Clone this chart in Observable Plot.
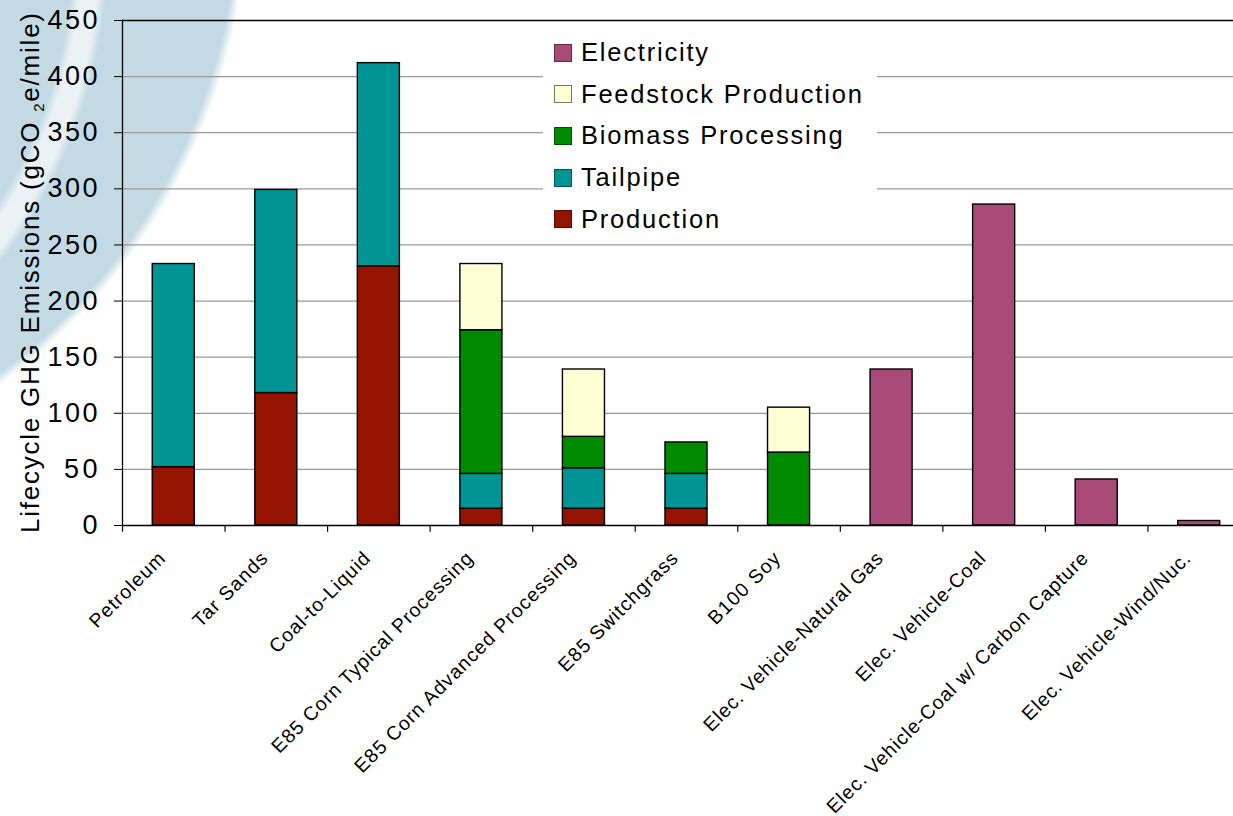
<!DOCTYPE html>
<html>
<head>
<meta charset="utf-8">
<script src="https://cdn.jsdelivr.net/npm/d3@7"></script>
<script src="https://cdn.jsdelivr.net/npm/@observablehq/plot@0.6"></script>
<style>
  html, body { margin: 0; padding: 0; background: #fff; overflow: hidden; }
  #chart {
    position: relative; width: 1233px; height: 816px;
    font-family: "Liberation Sans", Arial, sans-serif;
    /* pale swoosh: a light streak over a blue disc whose centre sits off the top-left corner */
    background:
      radial-gradient(circle 520px at -400px -50px,
        rgba(234, 242, 246, 0) 472px, rgba(234, 242, 246, 1) 481px,
        rgba(234, 242, 246, 1) 499px, rgba(234, 242, 246, 0) 508px),
      radial-gradient(circle 600px at -350px -100px,
        #c3dae4 588px, rgba(195, 218, 228, 0) 598px),
      #ffffff;
  }
  #plot { position: absolute; left: 0; top: 0; }
  #legend { position: absolute; left: 543px; top: 22px; width: 334px; height: 216px; background: #fff; }
  .row { position: absolute; left: 11px; height: 28px; display: flex; align-items: center;
         font-size: 25.5px; letter-spacing: 1.8px; color: #000; white-space: nowrap; }
  .sw { width: 16px; height: 16px; border: 1.5px solid; margin-right: 9px; flex: none; }
</style>
</head>
<body>
<div id="chart">
  <div id="plot"></div>
  <div id="legend"></div>
</div>
<script>
// Fuel pathways along the x axis
const categories = [
  "Petroleum", "Tar Sands", "Coal-to-Liquid", "E85 Corn Typical Processing",
  "E85 Corn Advanced Processing", "E85 Switchgrass", "B100 Soy",
  "Elec. Vehicle-Natural Gas", "Elec. Vehicle-Coal",
  "Elec. Vehicle-Coal w/ Carbon Capture", "Elec. Vehicle-Wind/Nuc."
];

// Emission components, bottom of the stack first
const stackOrder = ["Production", "Tailpipe", "Biomass Processing", "Feedstock Production", "Electricity"];
const componentColors = ["#941400", "#009494", "#008a00", "#ffffd6", "#a94a78"];

// gCO2e per mile for each component, one value per pathway
const production  = [52, 118, 231, 15, 15, 15, 0, 0, 0, 0, 0];
const tailpipe    = [181, 181, 181, 31, 36, 31, 0, 0, 0, 0, 0];
const biomass     = [0, 0, 0, 128, 28, 28, 65, 0, 0, 0, 0];
const feedstock   = [0, 0, 0, 59, 60, 0, 40, 0, 0, 0, 0];
const electricity = [0, 0, 0, 0, 0, 0, 0, 139, 286, 41, 4];

const yTicks = [0, 50, 100, 150, 200, 250, 300, 350, 400, 450];
const yLabel = "Lifecycle GHG Emissions (gCO 2e/mile)";

const series = [
  ["Production", production],
  ["Tailpipe", tailpipe],
  ["Biomass Processing", biomass],
  ["Feedstock Production", feedstock],
  ["Electricity", electricity]
];

const rows = [];
categories.forEach((category, i) => {
  for (const [component, values] of series) {
    if (values[i] > 0) rows.push({category, component, value: values[i]});
  }
});

const xRange = [122, 1250];
const step = (xRange[1] - xRange[0]) / categories.length;

const plot = Plot.plot({
  width: 1233,
  height: 816,
  marginLeft: 122,
  marginRight: 0,
  marginTop: 20,
  marginBottom: 291,
  style: {background: "transparent", fontFamily: "Liberation Sans, Arial, sans-serif", color: "#000", overflow: "hidden"},
  x: {domain: categories, range: xRange, paddingInner: 0.59, paddingOuter: 0.295, round: false, axis: null},
  y: {domain: [0, 450]},
  color: {domain: stackOrder, range: componentColors},
  marks: [
    Plot.gridY(yTicks.filter(t => t > 0 && t < 450), {stroke: "#999", strokeOpacity: 1, strokeWidth: 1.3}),
    Plot.barY(rows, {
      x: "category", y: "value", fill: "component", order: stackOrder,
      stroke: "#000", strokeWidth: 1.4
    }),
    Plot.ruleY([0, 450], {stroke: "#000", strokeWidth: 1.3}),
    Plot.frame({anchor: "left", stroke: "#000", strokeWidth: 1.3}),
    Plot.axisY(yTicks, {tickSize: 8, tickPadding: 17, fontSize: 27, label: null}),
    Plot.ruleX(categories, {x: d => d, dx: -step / 2, y1: 0, y2: -6, stroke: "#000", strokeWidth: 1.2}),
    Plot.text(categories, {
      x: d => d, text: d => d, frameAnchor: "bottom", rotate: -45,
      textAnchor: "end", lineAnchor: "middle", fontSize: 19.5, dx: -12, dy: 30,
      fill: "#000"
    }),
    Plot.text([yLabel], {
      text: d => d, frameAnchor: "left", rotate: -90, dx: -92,
      textAnchor: "middle", lineAnchor: "middle",
      fontSize: 26, fill: "#000"
    })
  ]
});

document.getElementById("plot").appendChild(plot);

const svg = d3.select(plot);
const texts = svg.selectAll("text");

// Subscript 2 in the axis title
const title = texts.filter(function () { return this.textContent === yLabel; });
title.each(function () {
  const t = d3.select(this).text(null);
  t.append("tspan").text("Lifecycle GHG Emissions (gCO ");
  t.append("tspan").attr("font-size", 15).attr("dy", 5).text("2");
  t.append("tspan").attr("dy", -5).text("e/mile)");
});

// Slightly wider letter spacing for the chart's text
function widen(selection, factor) {
  selection.each(function () {
    const n = this.getComputedTextLength();
    if (n > 0) {
      this.setAttribute("textLength", (n * factor).toFixed(1));
      this.setAttribute("lengthAdjust", "spacing");
    }
  });
}
const tickStrings = yTicks.map(String);
widen(texts.filter(function () { return tickStrings.includes(this.textContent); }), 1.11);
widen(texts.filter(function () { return categories.includes(this.textContent); }), 1.1);
widen(title, 1.14);

// Legend box
const legend = d3.select("#legend");
stackOrder.slice().reverse().forEach((name, i) => {
  const color = componentColors[stackOrder.indexOf(name)];
  const row = legend.append("div").attr("class", "row").style("top", `${16.7 + i * 41.6}px`);
  row.append("div").attr("class", "sw")
    .style("background", color)
    .style("border-color", d3.color(color).darker(name === "Feedstock Production" ? 2.2 : 1.6).formatHex());
  row.append("span").text(name);
});
</script>
</body>
</html>
